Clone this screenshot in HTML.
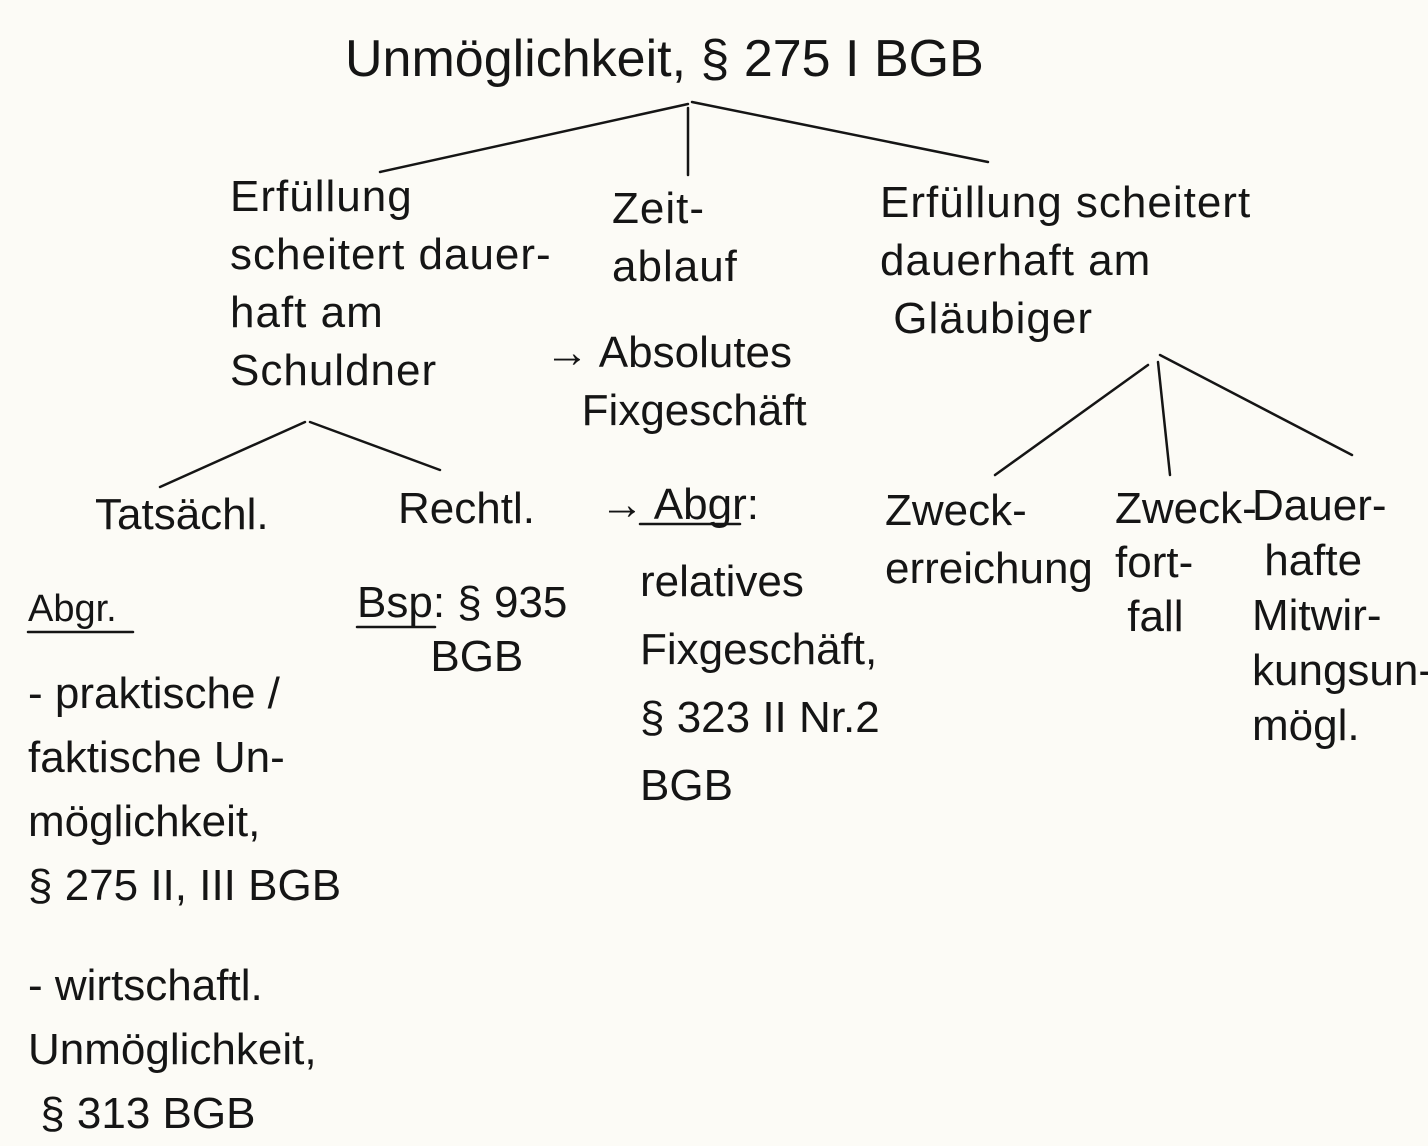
<!DOCTYPE html>
<html><head><meta charset="utf-8"><style>
html,body{margin:0;padding:0;}
body{width:1428px;height:1136px;background:#fcfbf6;position:relative;overflow:hidden;font-family:"Liberation Sans",sans-serif;color:#151515;}
.t{position:absolute;font-size:44px;line-height:58px;white-space:nowrap;font-weight:300;}
svg{position:absolute;left:0;top:0;}
</style></head><body>
<svg width="1428" height="1136" stroke="#151515" stroke-width="2.5" fill="none" stroke-linecap="round">
<line x1="688" y1="104" x2="380" y2="172"/>
<line x1="692" y1="102" x2="988" y2="162"/>
<line x1="688" y1="108" x2="688" y2="175"/>
<line x1="305" y1="422" x2="160" y2="487"/>
<line x1="310" y1="422" x2="440" y2="470"/>
<line x1="1148" y1="365" x2="995" y2="475"/>
<line x1="1158" y1="362" x2="1170" y2="475"/>
<line x1="1160" y1="355" x2="1352" y2="455"/>
<line x1="28" y1="632" x2="133" y2="632"/>
<line x1="357" y1="627" x2="435" y2="627"/>
<line x1="640" y1="524" x2="740" y2="524"/>
</svg>
<div class="t" style="left:345px;top:24px;font-size:52px;line-height:70px">Unmöglichkeit, § 275 I BGB</div>
<div class="t" style="left:230px;top:168px;letter-spacing:1px">Erfüllung<br>scheitert dauer-<br>haft am<br>Schuldner</div>
<div class="t" style="left:612px;top:180px;letter-spacing:1px">Zeit-<br>ablauf</div>
<div class="t" style="left:545px;top:324px">→ Absolutes<br>&nbsp;&nbsp;&nbsp;Fixgeschäft</div>
<div class="t" style="left:880px;top:174px;letter-spacing:1px">Erfüllung scheitert<br>dauerhaft am<br>&nbsp;Gläubiger</div>
<div class="t" style="left:95px;top:486px">Tatsächl.</div>
<div class="t" style="left:398px;top:480px">Rechtl.</div>
<div class="t" style="left:600px;top:476px">→ Abgr:</div>
<div class="t" style="left:640px;top:548px;line-height:68px">relatives<br>Fixgeschäft,<br>§ 323 II Nr.2<br>BGB</div>
<div class="t" style="left:885px;top:482px">Zweck-<br>erreichung</div>
<div class="t" style="left:1115px;top:482px;line-height:54px">Zweck-<br>fort-<br>&nbsp;fall</div>
<div class="t" style="left:1252px;top:478px;line-height:55px">Dauer-<br>&nbsp;hafte<br>Mitwir-<br>kungsun-<br>mögl.</div>
<div class="t" style="left:28px;top:580px;font-size:38px">Abgr.</div>
<div class="t" style="left:357px;top:576px;line-height:54px">Bsp: § 935<br>&nbsp;&nbsp;&nbsp;&nbsp;&nbsp;&nbsp;BGB</div>
<div class="t" style="left:28px;top:662px;line-height:64px">- praktische /<br>faktische Un-<br>möglichkeit,<br>§ 275 II, III BGB</div>
<div class="t" style="left:28px;top:954px;line-height:64px">- wirtschaftl.<br>Unmöglichkeit,<br>&nbsp;§ 313 BGB</div>
</body></html>
